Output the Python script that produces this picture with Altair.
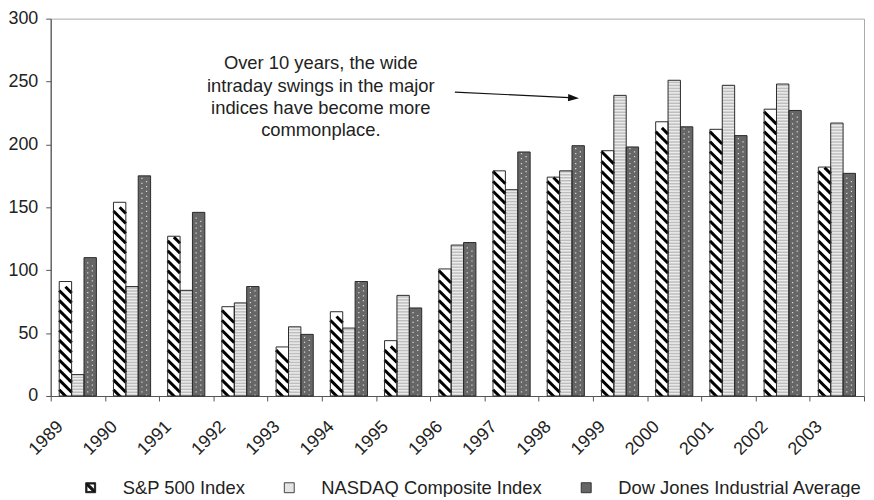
import altair as alt
import pandas as pd

YEARS = [str(y) for y in range(1989, 2004)]
SERIES = ["S&P 500 Index", "NASDAQ Composite Index", "Dow Jones Industrial Average"]
SP500 = [91, 154, 127, 71, 39, 67, 44, 101, 179, 174, 195, 218, 212, 228, 182]
NASDAQ = [17, 87, 84, 74, 55, 54, 80, 120, 164, 179, 239, 251, 247, 248, 217]
DOW = [110, 175, 146, 87, 49, 91, 70, 122, 194, 199, 198, 214, 207, 227, 177]
NOTE = ["Over 10 years, the wide", "intraday swings in the major",
        "indices have become more", "commonplace."]

rows = []
for s, vals in zip(SERIES, [SP500, NASDAQ, DOW]):
    for yr, v in zip(YEARS, vals):
        rows.append({"year": yr, "series": s, "value": v})
df = pd.DataFrame(rows)

W, H = 819, 380
YMAX = 300
U = YMAX / H  # data units per pixel
FONT = "Liberation Sans"
TXT = "#222222"

# pattern geometry (pixels -> data units)
P_N = 3.0 * U     # NASDAQ horizontal stripe period
P_S = 10.0 * U    # S&P diagonal stripe vertical period
HS = 6.25 * U     # half of diagonal segment height
P_D = 5.0 * U     # Dow dot row period

x_enc = alt.X(
    "year:N", sort=YEARS,
    scale=alt.Scale(paddingInner=0, paddingOuter=0),
    axis=alt.Axis(title=None, labelAngle=-45, labelAlign="right", labelBaseline="middle",
                  labelOffset=-18, labelPadding=23, tickBand="extent", tickSize=5,
                  labelFontSize=18, labelFont=FONT, labelColor=TXT,
                  domainColor="#555555", tickColor="#555555", domainWidth=1.2),
)
xo_enc = alt.XOffset("series:N", sort=SERIES,
                     scale=alt.Scale(domain=SERIES, paddingInner=0, paddingOuter=0.69))
yscale = alt.Scale(domain=[0, YMAX], nice=False)
yaxis = alt.Axis(title=None, values=list(range(0, 301, 50)), grid=False, tickSize=5,
                 labelPadding=8, labelFontSize=18, labelFont=FONT, labelColor=TXT,
                 domainColor="#555555", tickColor="#555555", domainWidth=1.2)

SP_ICON = ("M -1 -1 L 1 -1 L 1 1 L -1 1 Z "
           "M -0.4 -0.75 L 0.75 0.4 L 0.75 -0.75 Z "
           "M -0.75 -0.4 L -0.75 0.75 L 0.4 0.75 Z")

base = alt.Chart(df)

legend = alt.Legend(
    title=None, orient="none", legendX=31, legendY=463, direction="horizontal",
    symbolSize=100, symbolStrokeWidth=1, symbolOpacity=1,
    labelFontSize=18.5, labelFont=FONT, labelColor=TXT, labelOffset=23, columnPadding=35,
    labelLimit=400, padding=0,
)
legend_layer = base.mark_point(filled=True, opacity=1, size=4, strokeWidth=1).encode(
    x=x_enc, xOffset=xo_enc,
    y=alt.Y("half:Q", scale=yscale, axis=yaxis),
    color=alt.Color("series:N", sort=SERIES,
                    scale=alt.Scale(domain=SERIES, range=["#111111", "#e4e4e4", "#666666"]),
                    legend=legend),
    stroke=alt.Stroke("series:N", sort=SERIES,
                      scale=alt.Scale(domain=SERIES, range=["#222222", "#444444", "#333333"]),
                      legend=legend),
    shape=alt.Shape("series:N", sort=SERIES,
                    scale=alt.Scale(domain=SERIES, range=[SP_ICON, "square", "square"]),
                    legend=legend),
).transform_calculate(half="datum.value / 2")

fill_layer = base.mark_bar(strokeWidth=0).encode(
    x=x_enc, xOffset=xo_enc,
    y=alt.Y("value:Q", scale=yscale, axis=yaxis),
    fill=alt.Fill("series:N", sort=SERIES,
                  scale=alt.Scale(domain=SERIES, range=["#ffffff", "#ececec", "#666666"]),
                  legend=None),
)

nasdaq_stripes = base.transform_filter(
    alt.datum.series == SERIES[1]
).transform_calculate(
    s=f"sequence(0, datum.value, {P_N})"
).transform_flatten(["s"]).transform_calculate(
    s2=f"min(datum.s + {P_N / 2}, datum.value)"
).mark_bar(color="#bebebe", strokeWidth=0).encode(
    x=x_enc, xOffset=xo_enc,
    y=alt.Y("s:Q", scale=yscale, axis=yaxis), y2="s2:Q",
)

sp_full = base.transform_filter(
    alt.datum.series == SERIES[0]
).transform_calculate(
    s=f"sequence(0, datum.value - {HS} + 0.0001, {P_S})"
).transform_flatten(["s"]).mark_point(
    shape="M -1 -1 L 1 1", size=156, filled=False, color="#000000",
    strokeWidth=3, opacity=1, clip=True,
).encode(
    x=x_enc, xOffset=xo_enc, y=alt.Y("s:Q", scale=yscale, axis=yaxis),
)

sp_half = base.transform_filter(
    alt.datum.series == SERIES[0]
).transform_calculate(
    s=f"(floor((datum.value - {HS}) / {P_S}) + 1) * {P_S}"
).transform_filter(
    "datum.s <= datum.value"
).mark_point(
    shape="M 0 0 L 1 1", size=156, filled=False, color="#000000",
    strokeWidth=3, opacity=1, clip=True,
).encode(
    x=x_enc, xOffset=xo_enc, y=alt.Y("s:Q", scale=yscale, axis=yaxis),
)

DOT = ("M -0.5 -0.35 L -0.3 -0.35 L -0.3 -0.15 L -0.5 -0.15 Z "
       "M 0.25 0.15 L 0.45 0.15 L 0.45 0.35 L 0.25 0.35 Z")
dow_dots = base.transform_filter(
    alt.datum.series == SERIES[2]
).transform_calculate(
    s=f"sequence({P_D / 2}, datum.value - {P_D / 2}, {P_D})"
).transform_flatten(["s"]).mark_point(
    shape=DOT, size=156, filled=True, color="#d6d6d6", strokeWidth=0, opacity=1,
).encode(
    x=x_enc, xOffset=xo_enc, y=alt.Y("s:Q", scale=yscale, axis=yaxis),
)

outline = base.mark_bar(fill="#ffffff", fillOpacity=0, stroke="#2a2a2a", strokeWidth=1).encode(
    x=x_enc, xOffset=xo_enc, y=alt.Y("value:Q", scale=yscale, axis=yaxis),
)

one = alt.Chart(pd.DataFrame({"k": [0]}))
note = one.mark_text(
    text=NOTE, align="center", baseline="alphabetic", lineHeight=22.4,
    fontSize=18.5, font=FONT, color=TXT,
).encode(x=alt.value(272), y=alt.value(51))

arrow_shaft = one.mark_rule(color="#111111", strokeWidth=1.2).encode(
    x=alt.value(407), x2=alt.value(522), y=alt.value(74), y2=alt.value(79.5),
)
arrow_head = one.mark_point(
    shape="M 1 0 L -1 -0.65 L -1 0.65 Z", size=121, filled=True, color="#111111",
    opacity=1, angle=2.75,
).encode(x=alt.value(526.5), y=alt.value(79.8))

chart = alt.layer(
    legend_layer, fill_layer, nasdaq_stripes, sp_full, sp_half, dow_dots, outline,
    note, arrow_shaft, arrow_head,
).properties(
    width=W, height=H,
    autosize=alt.AutoSizeParams(type="none"),
    padding={"left": 43, "top": 9, "right": 2, "bottom": 100},
).configure_view(
    stroke="#aaaaaa", strokeWidth=1,
)

chart.save("out.html", embed_options={"renderer": "svg", "actions": False})
